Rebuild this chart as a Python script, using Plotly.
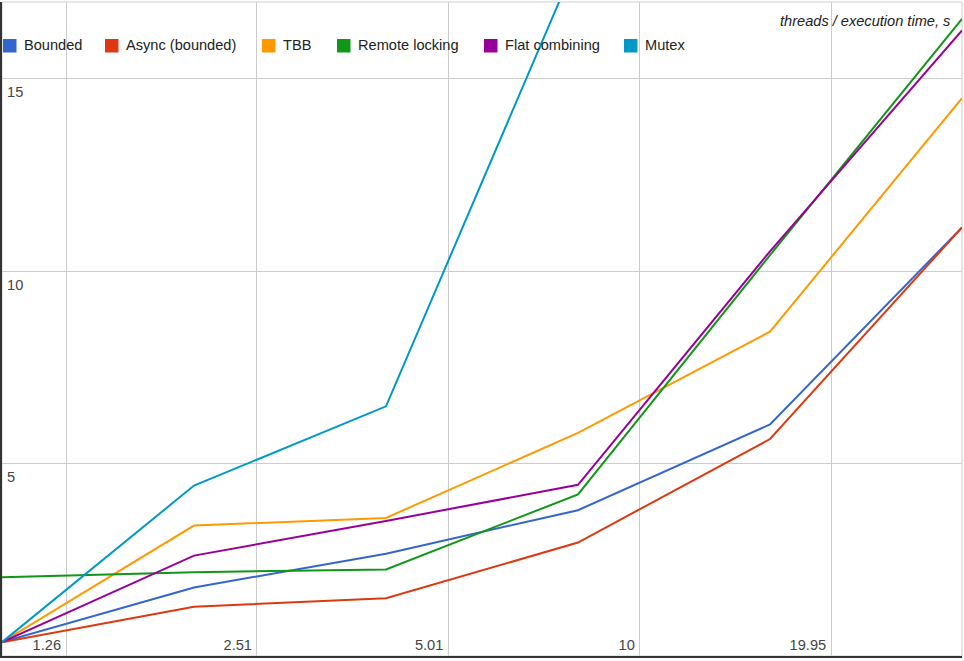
import math
import plotly.graph_objects as go

# ---------------- data ----------------
threads = [1, 2, 4, 8, 16, 32]
bounded = [0.36, 1.78, 2.66, 3.79, 6.02, 11.14]
async_bounded = [0.36, 1.28, 1.50, 2.95, 5.64, 11.14]
tbb = [0.36, 3.39, 3.59, 5.80, 8.43, 14.50]
remote_locking = [2.05, 2.18, 2.25, 4.20, 10.42, 16.56]
flat_combining = [0.36, 2.61, 3.51, 4.45, 10.52, 16.26]
mutex = [0.36, 4.43, 6.49, 18.15, None, None]

series_names = ["Bounded", "Async (bounded)", "TBB", "Remote locking",
                "Flat combining", "Mutex"]
series_values = [bounded, async_bounded, tbb, remote_locking,
                 flat_combining, mutex]
series_colors = ["#3366cc", "#dc3912", "#ff9900", "#109618", "#990099", "#0099c6"]

x_tick_labels = ["1.26", "2.51", "5.01", "10", "19.95"]
y_tick_values = [5, 10, 15]
axis_title = "threads / execution time, s"

# ---------------- layout geometry ----------------
W, H = 964, 661
L, R, T, B = 2, 2, 2, 5
FONT = "Liberation Sans, Arial, sans-serif"
FS = 14.6


def px_x(p):
    return (p - L) / (W - L - R)


def px_y(p):
    return (H - B - p) / (H - T - B)


fig = go.Figure()
for name, vals, color in zip(series_names, series_values, series_colors):
    fig.add_trace(go.Scatter(
        x=threads, y=vals, mode="lines", name=name,
        line=dict(color=color, width=2), showlegend=False,
        hoverinfo="x+y+name",
    ))

# plot-area border (light)
fig.add_shape(type="rect", xref="paper", yref="paper", x0=0, x1=1, y0=0, y1=1,
              line=dict(color="#cccccc", width=1), layer="below")

# manual legend (square swatches like the reference)
legend_left_px = [3, 105, 262, 337, 484, 624]
for name, color, lx in zip(series_names, series_colors, legend_left_px):
    fig.add_shape(type="rect", xref="paper", yref="paper",
                  x0=px_x(lx), x1=px_x(lx + 13.5),
                  y0=px_y(52.5), y1=px_y(39),
                  fillcolor=color, line=dict(width=0), layer="above")
    fig.add_annotation(text=name, xref="paper", yref="paper",
                       x=px_x(lx + 19), y=px_y(45.5),
                       xanchor="left", yanchor="middle", showarrow=False,
                       font=dict(family=FONT, size=FS, color="#222222"))

fig.add_annotation(text="<i>" + axis_title + "</i>", xref="paper", yref="paper",
                   x=px_x(952), y=px_y(21.5), xanchor="right", yanchor="middle",
                   showarrow=False,
                   font=dict(family=FONT, size=FS, color="#222222"))

fig.update_layout(
    width=W, height=H,
    margin=dict(l=L, r=R, t=T, b=B, pad=0),
    plot_bgcolor="white", paper_bgcolor="white",
    font=dict(family=FONT, size=FS, color="#444444"),
    showlegend=False,
)

fig.update_xaxes(
    type="log", range=[0, math.log10(threads[-1])],
    tickmode="array", tickvals=[float(t) for t in x_tick_labels],
    ticktext=x_tick_labels,
    ticklabelposition="inside left", ticks="",
    ticklabelshift=-4,
    showgrid=True, gridcolor="#cccccc", gridwidth=1,
    showline=True, linecolor="#333333", linewidth=2,
    zeroline=False,
    tickfont=dict(family=FONT, size=FS, color="#444444"),
)
fig.update_yaxes(
    range=[0, 17],
    tickmode="array", tickvals=y_tick_values,
    ticktext=[str(v) for v in y_tick_values],
    ticklabelposition="inside bottom", ticks="",
    ticklabelstandoff=4, ticklabelshift=3,
    showgrid=True, gridcolor="#cccccc", gridwidth=1,
    showline=True, linecolor="#333333", linewidth=2,
    zeroline=False,
    tickfont=dict(family=FONT, size=FS, color="#444444"),
)

fig.write_html(
    "out.html",
    config={"displayModeBar": False},
    post_script="document.body.style.margin='0';document.body.style.overflow='hidden';",
)
